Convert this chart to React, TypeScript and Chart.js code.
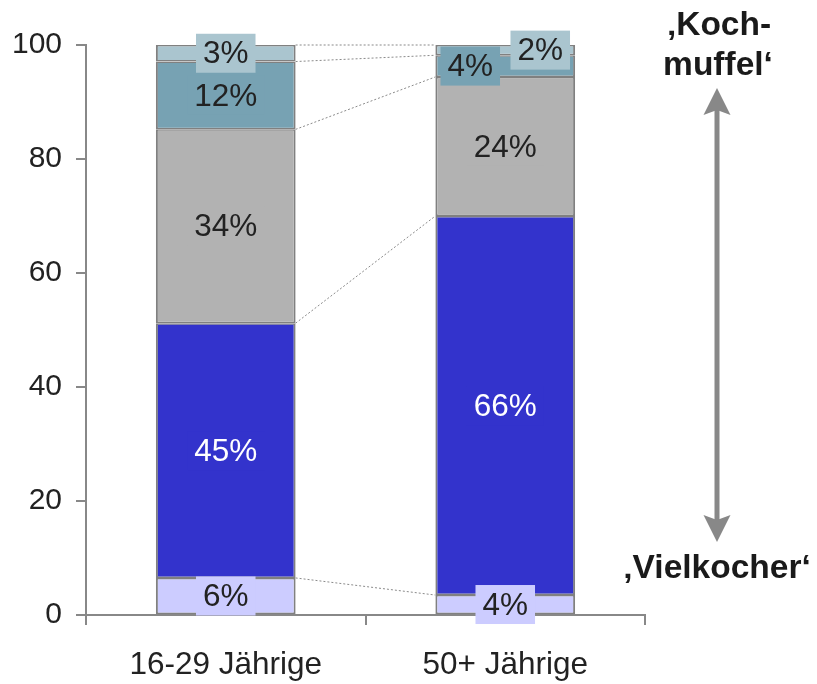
import { useEffect, useRef } from "react";
import { Chart, registerables } from "chart.js";

Chart.register(...registerables);

const FONT = '"Liberation Sans", Arial, Helvetica, sans-serif';

// ---- data ----
const categories = ["16-29 Jährige", "50+ Jährige"];
const seriesNames = ["Vielkocher", "eher viel", "mittel", "eher wenig", "Kochmuffel"];
const vielkocherValues = [6.5, 3.5];
const vielValues = [44.7, 66.5];
const mittelValues = [34.0, 24.4];
const wenigValues = [11.9, 3.8];
const kochmuffelValues = [2.9, 1.8];

const vielkocherLabels = ["6%", "4%"];
const vielLabels = ["45%", "66%"];
const mittelLabels = ["34%", "24%"];
const wenigLabels = ["12%", "4%"];
const kochmuffelLabels = ["3%", "2%"];

const yTickValues = [0, 20, 40, 60, 80, 100];

// ---- styles ----
const segColors = ["#ccccff", "#3333cc", "#b2b2b2", "#77a2b3", "#aac5cf"];
const textColors = ["#222222", "#ffffff", "#222222", "#222222", "#222222"];
// horizontal label shifts (px) per series per category
const labelShift = [
  [0, 0],
  [0, 0],
  [0, 0],
  [0, -35],
  [0, 35],
];

const allValues = [vielkocherValues, vielValues, mittelValues, wenigValues, kochmuffelValues];
const allLabels = [vielkocherLabels, vielLabels, mittelLabels, wenigLabels, kochmuffelLabels];

const overlayPlugin = {
  id: "overlay",
  afterDatasetsDraw(chart: any) {
    const ctx = chart.ctx as CanvasRenderingContext2D;
    const n = chart.data.datasets.length;
    ctx.save();
    // dotted connectors between stack boundaries
    ctx.strokeStyle = "#8a8a8a";
    ctx.lineWidth = 1;
    ctx.setLineDash([2, 2]);
    for (let i = 0; i < n; i++) {
      const meta = chart.getDatasetMeta(i);
      const a = meta.data[0].getProps(["x", "y", "width"], true);
      const b = meta.data[1].getProps(["x", "y", "width"], true);
      ctx.beginPath();
      ctx.moveTo(a.x + a.width / 2, a.y);
      ctx.lineTo(b.x - b.width / 2, b.y);
      ctx.stroke();
    }
    ctx.setLineDash([]);
    // value labels with background boxes
    ctx.font = `31.5px ${FONT}`;
    ctx.textAlign = "center";
    ctx.textBaseline = "middle";
    for (let i = 0; i < n; i++) {
      const meta = chart.getDatasetMeta(i);
      meta.data.forEach((el: any, j: number) => {
        const p = el.getProps(["x", "y", "base"], true);
        const text = allLabels[i][j];
        const cx = p.x + labelShift[i][j];
        const cy = (p.y + p.base) / 2;
        const w = ctx.measureText(text).width + 14;
        const h = 39;
        ctx.fillStyle = segColors[i];
        ctx.fillRect(cx - w / 2, cy - h / 2, w, h);
        ctx.fillStyle = textColors[i];
        ctx.fillText(text, cx, cy + 1.5);
      });
    }
    ctx.restore();
  },
  afterDraw(chart: any) {
    const ctx = chart.ctx as CanvasRenderingContext2D;
    const ax = chart.chartArea.right + 72;
    const topTip = 88;
    const botTip = 542;
    const headLen = 27;
    const headHalf = 13.5;
    ctx.save();
    ctx.strokeStyle = "#888888";
    ctx.fillStyle = "#888888";
    ctx.lineWidth = 5;
    ctx.beginPath();
    ctx.moveTo(ax, topTip + headLen - 6);
    ctx.lineTo(ax, botTip - headLen + 6);
    ctx.stroke();
    // top head
    ctx.beginPath();
    ctx.moveTo(ax, topTip);
    ctx.lineTo(ax + headHalf, topTip + headLen);
    ctx.lineTo(ax, topTip + headLen - 5);
    ctx.lineTo(ax - headHalf, topTip + headLen);
    ctx.closePath();
    ctx.fill();
    // bottom head
    ctx.beginPath();
    ctx.moveTo(ax, botTip);
    ctx.lineTo(ax + headHalf, botTip - headLen);
    ctx.lineTo(ax, botTip - headLen + 5);
    ctx.lineTo(ax - headHalf, botTip - headLen);
    ctx.closePath();
    ctx.fill();
    // texts
    ctx.fillStyle = "#1a1a1a";
    ctx.font = `bold 33.5px ${FONT}`;
    ctx.textAlign = "center";
    ctx.textBaseline = "alphabetic";
    ctx.fillText("\u201AKoch-", ax + 2, 35);
    ctx.fillText("muffel\u2018", ax + 1, 75);
    ctx.fillText("\u201AVielkocher\u2018", ax, 578);
    ctx.restore();
  },
};

export default function App() {
  const canvasRef = useRef<HTMLCanvasElement | null>(null);

  useEffect(() => {
    if (!canvasRef.current) return;
    const chart = new Chart(canvasRef.current, {
      type: "bar",
      data: {
        labels: categories,
        datasets: allValues.map((vals, i) => ({
          label: seriesNames[i],
          data: vals,
          backgroundColor: segColors[i],
          borderColor: "#808080",
          borderWidth: { left: 2, right: 2, top: 1.5, bottom: 1.5 },
          borderSkipped: false,
          categoryPercentage: 1,
          barPercentage: 0.5,
          clip: false as any,
        })),
      },
      options: {
        animation: false,
        responsive: true,
        maintainAspectRatio: false,
        layout: { padding: { top: 45, right: 172, left: 0, bottom: 0 } },
        plugins: {
          legend: { display: false },
          tooltip: { enabled: false },
        },
        scales: {
          x: {
            stacked: true,
            grid: {
              offset: true,
              drawOnChartArea: false,
              drawTicks: true,
              tickLength: 10,
              color: "#888888",
              lineWidth: 2,
            },
            border: { color: "#888888", width: 2 },
            ticks: {
              color: "#222222",
              font: { family: FONT, size: 31.5 },
              padding: 21.5,
              maxRotation: 0,
            },
            afterFit: (scale: any) => {
              scale.height = 69;
            },
          },
          y: {
            stacked: true,
            min: 0,
            max: 100,
            afterBuildTicks: (scale: any) => {
              scale.ticks = yTickValues.map((v) => ({ value: v }));
            },
            grid: {
              drawOnChartArea: false,
              drawTicks: true,
              tickLength: 10,
              color: "#888888",
              lineWidth: 2,
            },
            border: { color: "#888888", width: 2 },
            ticks: {
              color: "#222222",
              font: { family: FONT, size: 30 },
              padding: 14,
            },
            afterFit: (scale: any) => {
              scale.width = 86;
            },
          },
        },
      },
      plugins: [overlayPlugin],
    });
    return () => chart.destroy();
  }, []);

  return (
    <div style={{ position: "fixed", left: 0, top: 0, width: 817, height: 684, background: "#ffffff" }}>
      <canvas ref={canvasRef} />
    </div>
  );
}
